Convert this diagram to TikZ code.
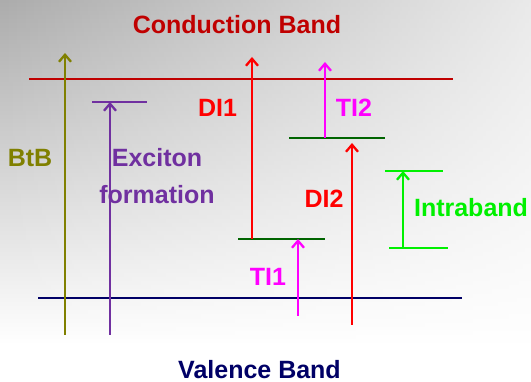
\documentclass[tikz,border=0pt]{standalone}
\usepackage{fontspec}
\setmainfont{Liberation Sans}
\usepackage{xcolor}
\usepackage{tikz}
\usetikzlibrary{arrows.meta,fadings}

\definecolor{cbred}{RGB}{192,0,0}
\definecolor{vbnavy}{RGB}{0,0,102}
\definecolor{btbolive}{RGB}{128,128,0}
\definecolor{excpurple}{RGB}{112,48,160}
\definecolor{direct}{RGB}{255,0,0}
\definecolor{trapmag}{RGB}{255,0,255}
\definecolor{trapgreen}{RGB}{0,100,0}
\definecolor{intragreen}{RGB}{0,240,0}
\definecolor{bggray}{RGB}{172,172,172}
\tikzfading[name=rightwhite, left color=transparent!100, right color=transparent!0]

\begin{document}
\begin{tikzpicture}[x=1pt,y=-1pt,
  font=\fontsize{25}{37}\selectfont\bfseries,
  level/.style={line width=2.3pt},
  upar/.style={line width=2.3pt,-{Straight Barb[length=7pt,width=12pt]}},
  lbl/.style={anchor=base,inner sep=0pt,align=center}]
\useasboundingbox (0,0) rectangle (531,382);
% background
\fill[white] (0,0) rectangle (531,382);
\shade[top color=bggray,bottom color=white] (0,0) rectangle (531,345);
\fill[white,path fading=rightwhite,fill opacity=0.75] (0,0) rectangle (531,382);
% band edges and levels
\coordinate (cbL) at (29,79);   \coordinate (cbR) at (453,79);
\coordinate (vbL) at (38,298);  \coordinate (vbR) at (462,298);
\coordinate (exL) at (92,102);  \coordinate (exR) at (147,102);
\coordinate (t1L) at (238,239); \coordinate (t1R) at (325,239);
\coordinate (t2L) at (289,138); \coordinate (t2R) at (385,138);
\coordinate (inT) at (385,171); \coordinate (inTR) at (443,171);
\coordinate (inB) at (389,248); \coordinate (inBR) at (448,248);
\draw[level,cbred] (cbL) -- (cbR);
\draw[level,vbnavy] (vbL) -- (vbR);
\draw[level,excpurple] (exL) -- (exR);
\draw[level,trapgreen] (t1L) -- (t1R);
\draw[level,trapgreen] (t2L) -- (t2R);
\draw[level,intragreen] (inT) -- (inTR);
\draw[level,intragreen] (inB) -- (inBR);
% transitions
\coordinate (btbS) at (65,335);  \coordinate (btbE) at (65,53);
\coordinate (excS) at (110,335); \coordinate (excE) at (110,102);
\coordinate (di1S) at (252,239); \coordinate (di1E) at (252,57);
\coordinate (ti1S) at (298,316); \coordinate (ti1E) at (298,239);
\coordinate (di2S) at (352,325); \coordinate (di2E) at (352,143);
\coordinate (ti2S) at (325,138); \coordinate (ti2E) at (325,62);
\coordinate (intS) at (403,248); \coordinate (intE) at (403,171);
\draw[upar,btbolive] (btbS) -- (btbE);
\draw[upar,excpurple] (excS) -- (excE);
\draw[upar,direct] (di1S) -- (di1E);
\draw[upar,trapmag] (ti1S) -- (ti1E);
\draw[upar,direct] (di2S) -- (di2E);
\draw[upar,trapmag] (ti2S) -- (ti2E);
\draw[upar,intragreen] (intS) -- (intE);
% labels
\node[lbl,cbred] (lbCond) at (237,34) {Conduction Band};
\node[lbl,vbnavy] (lbVal) at (259.5,379) {Valence Band};
\node[lbl,btbolive] (lbBtb) at (30,167) {BtB};
\node[lbl,excpurple] (lbExc) at (157,204) {Exciton\\formation};
\node[lbl,direct] (lbDi1) at (217.5,117) {DI1};
\node[lbl,direct] (lbDi2) at (324,208) {DI2};
\node[lbl,trapmag] (lbTi1) at (268,286) {TI1};
\node[lbl,trapmag] (lbTi2) at (354,117) {TI2};
\node[lbl,intragreen] (lbInt) at (471,217) {Intraband};
\end{tikzpicture}
\end{document}
